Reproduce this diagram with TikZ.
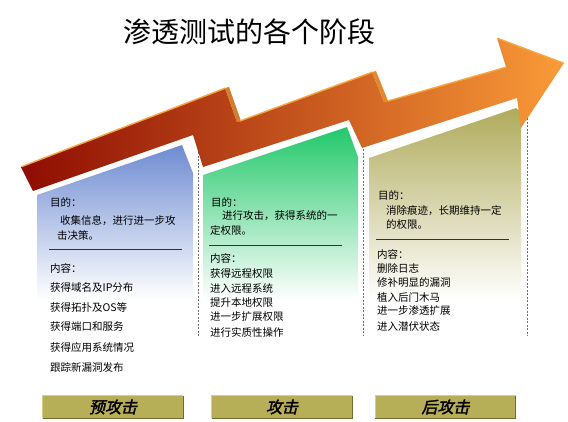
\documentclass[tikz,border=0pt]{standalone}
\usepackage{fontspec}
\newfontfamily\cjk{Noto Sans CJK SC}
\newfontfamily\cjkbtn[FakeSlant=0.22,FakeBold=2]{Noto Sans CJK SC}
\definecolor{arrL}{HTML}{8E0C02}
\definecolor{arrM}{HTML}{C8631F}
\definecolor{arrR}{HTML}{FA9B38}
\definecolor{bevel}{HTML}{F9A640}
\definecolor{stepface}{HTML}{D37E2C}
\definecolor{pblue}{HTML}{6F8CD2}
\definecolor{pgreen}{HTML}{22C86A}
\definecolor{polive}{HTML}{B0AB5C}
\definecolor{btncol}{HTML}{B7AE58}
\definecolor{btndark}{HTML}{6F6A2E}
\definecolor{btnlight}{HTML}{D6CF88}
\definecolor{dashcol}{HTML}{707070}
\tikzset{
  txt/.style={anchor=west, inner sep=0pt, font=\cjk\fontsize{10.5}{12}\selectfont},
  divider/.style={draw=black!80, line width=0.9pt},
  dashsep/.style={draw=dashcol, line width=0.9pt, dash pattern=on 2pt off 1.5pt},
  bevelline/.style={draw=bevel, line width=1.4pt, line cap=round},
  btnbox/.style={fill=btncol, minimum width=140pt, minimum height=22pt, inner sep=0pt,
     font=\cjkbtn\fontsize{16}{18}\selectfont},
  btnshadow/.style={draw=btndark, line width=1.2pt},
  btnhl/.style={draw=btnlight, line width=0.8pt}
}
\begin{document}
\begin{tikzpicture}[x=1pt,y=-1pt]
\useasboundingbox (0,0) rectangle (568,421);
\fill[white] (0,0) rectangle (568,421);

% title
\node[inner sep=0pt, font=\cjk\fontsize{28}{30}\selectfont] (title) at (249,32) {渗透测试的各个阶段};

% panels
\shade[top color=pblue, bottom color=white] (37,195) -- (182,145) -- (193,173) -- (193,300) -- (37,300) -- cycle;
\shade[top color=pgreen, bottom color=white] (203,175) -- (347,127) -- (358,157) -- (358,300) -- (203,300) -- cycle;
\shade[top color=polive, bottom color=white] (369,158) -- (516,108) -- (521,112) -- (521,300) -- (369,300) -- cycle;

% dashed separators
\draw[dashsep] (198,152) -- (198,337);
\draw[dashsep] (363,149) -- (363,336);
\draw[dashsep] (527,118) -- (527,336);

% arrow
\shade[left color=arrL, middle color=arrM, right color=arrR]
  (21,167) -- (225,88) -- (237,122) -- (372,72) -- (384,102) -- (506,67) -- (497,38)
  -- (564,63) -- (521,128) -- (517,98) -- (362,148) -- (349,120) -- (203,167)
  -- (193,135) -- (33,191) -- cycle;
\fill[stepface] (225,88) -- (229,87) -- (241,121) -- (237,122) -- cycle;
\fill[stepface!60!arrR] (372,72) -- (376,71) -- (388,101) -- (384,102) -- cycle;
\draw[bevelline] (22,166.5) -- (225,88.3);
\draw[bevelline] (240,121) -- (372,72.3);
\draw[bevelline] (388,101) -- (506,67.3);
\draw[bevelline] (498,38.5) -- (563,63);

% panel 1 text
\node[txt] (p1a) at (50,202) {目的：};
\node[txt] (p1b) at (60,221) {收集信息，进行进一步攻};
\node[txt] (p1c) at (57,235) {击决策。};
\draw[divider] (49,249) -- (182,249);
\node[txt] (p1d) at (50,268) {内容：};
\node[txt] (p1e) at (50,288) {获得域名及IP分布};
\node[txt] (p1f) at (50,307) {获得拓扑及OS等};
\node[txt] (p1g) at (50,327) {获得端口和服务};
\node[txt] (p1h) at (50,347) {获得应用系统情况};
\node[txt] (p1i) at (50,367) {跟踪新漏洞发布};

% panel 2 text
\node[txt] (p2a) at (211,202) {目的：};
\node[txt] (p2b) at (222,216) {进行攻击，获得系统的一};
\node[txt] (p2c) at (210,230) {定权限。};
\draw[divider] (209,245) -- (342,245);
\node[txt] (p2d) at (210,258) {内容：};
\node[txt] (p2e) at (210,274) {获得远程权限};
\node[txt] (p2f) at (210,288) {进入远程系统};
\node[txt] (p2g) at (210,303) {提升本地权限};
\node[txt] (p2h) at (210,317) {进一步扩展权限};
\node[txt] (p2i) at (210,332) {进行实质性操作};

% panel 3 text
\node[txt] (p3a) at (378,195) {目的：};
\node[txt] (p3b) at (386,211) {消除痕迹，长期维持一定};
\node[txt] (p3c) at (386,225) {的权限。};
\draw[divider] (376,239) -- (509,239);
\node[txt] (p3d) at (377,254) {内容：};
\node[txt] (p3e) at (377,268) {删除日志};
\node[txt] (p3f) at (377,283) {修补明显的漏洞};
\node[txt] (p3g) at (377,297) {植入后门木马};
\node[txt] (p3h) at (377,311) {进一步渗透扩展};
\node[txt] (p3i) at (377,326) {进入潜伏状态};

% buttons
\foreach \n/\x/\t in {b1/113/预攻击, b2/282/攻击, b3/445.5/后攻击}{
  \node[btnbox] (\n) at (\x,407) {\t};
  \draw[btnhl] (\n.south west) -- (\n.north west) -- (\n.north east);
  \draw[btnshadow] (\n.north east) -- (\n.south east) -- (\n.south west);
}
\end{tikzpicture}
\end{document}
